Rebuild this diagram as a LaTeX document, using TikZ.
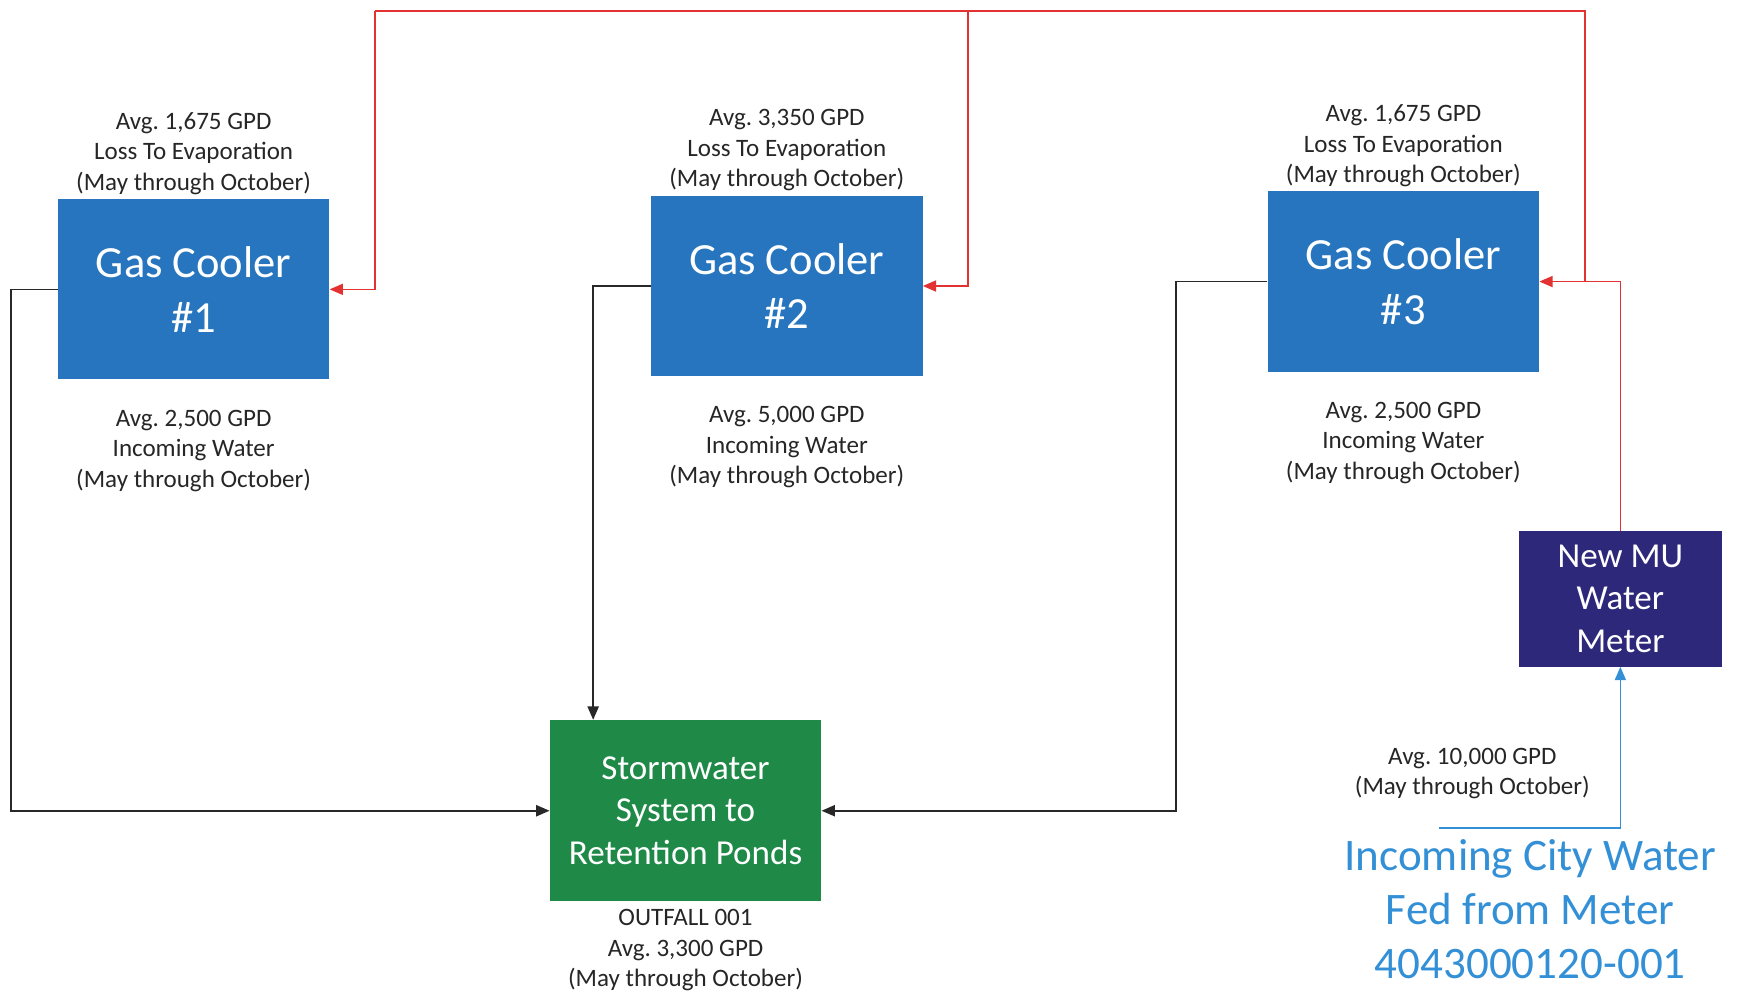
\documentclass[tikz,border=0pt]{standalone}
\usepackage{fontspec}
\setmainfont{Carlito}
\usetikzlibrary{arrows.meta}
\definecolor{gcblue}{RGB}{38,117,190}
\definecolor{swgreen}{RGB}{31,138,72}
\definecolor{mnavy}{RGB}{45,40,122}
\definecolor{cityblue}{RGB}{52,144,214}
\definecolor{pipered}{RGB}{226,50,50}
\definecolor{pipeblack}{RGB}{40,40,40}
\tikzset{
  gcbox/.style={fill=gcblue, text=white, minimum width=244pt, minimum height=162pt, align=center, inner sep=0pt,
    font=\fontsize{40}{49}\selectfont},
  swbox/.style={fill=swgreen, text=white, minimum width=244pt, minimum height=163pt, align=center, inner sep=0pt,
    font=\fontsize{31.5}{38}\selectfont},
  mbox/.style={fill=mnavy, text=white, minimum width=182pt, minimum height=122pt, align=center, inner sep=0pt,
    font=\fontsize{31.5}{38}\selectfont},
  lbl/.style={align=center, inner sep=0pt, text=black!85, font=\fontsize{22.5}{27.5}\selectfont},
  citylbl/.style={align=center, inner sep=0pt, text=cityblue, font=\fontsize{40.5}{48.5}\selectfont},
  tip/.style={-{Triangle[length=12pt,width=10pt]}},
  redpipe/.style={draw=pipered, line width=1.4pt},
  blackpipe/.style={draw=pipeblack, line width=1.5pt},
  bluepipe/.style={draw=cityblue, line width=1.4pt},
}
\frenchspacing
\begin{document}
\begin{tikzpicture}[x=1pt, y=-1pt]
\useasboundingbox (0,0) rectangle (1568,894);

% boxes
\node[gcbox] (gc1) at (174,260) {Gas Cooler\\\#1};
\node[gcbox] (gc2) at (707,257) {Gas Cooler\\\#2};
\node[gcbox] (gc3) at (1261,253) {Gas Cooler\\\#3};
\node[swbox] (sw) at (616,728.5) {Stormwater\\System to\\Retention Ponds};
\node[mbox] (meter) at (1456,538) {New MU\\Water\\Meter};

% labels
\node[lbl] (l1a) at (174,138) {Avg. 1,675 GPD\\Loss To Evaporation\\(May through October)};
\node[lbl] (l1b) at (174,405) {Avg. 2,500 GPD\\Incoming Water\\(May through October)};
\node[lbl] (l2a) at (707,135) {Avg. 3,350 GPD\\Loss To Evaporation\\(May through October)};
\node[lbl] (l2b) at (707,402) {Avg. 5,000 GPD\\Incoming Water\\(May through October)};
\node[lbl] (l3a) at (1261,131) {Avg. 1,675 GPD\\Loss To Evaporation\\(May through October)};
\node[lbl] (l3b) at (1261,398) {Avg. 2,500 GPD\\Incoming Water\\(May through October)};
\node[lbl] (lsw) at (616,854) {OUTFALL 001\\Avg. 3,300 GPD\\(May through October)};
\node[lbl] (lcity) at (1323,695) {Avg. 10,000 GPD\\(May through October)};
\node[citylbl] (city) at (1375,817) {Incoming City Water\\Fed from Meter\\4043000120-001};

% coordinates for pipe corners
\coordinate (topL) at (337,10);
\coordinate (top2) at (870,10);
\coordinate (topR) at (1424,10);
\coordinate (j3) at (1424,253);
\coordinate (c1) at (10,728.5);
\coordinate (c2) at (533,500);
\coordinate (c3) at (1057,728.5);
\coordinate (b0) at (1293,744);

% red make-up water pipes
\draw[redpipe, tip] (meter.north) |- (gc3.east);
\draw[redpipe] (j3) -- (topR) -- (topL);
\draw[redpipe, tip] (topL) |- (gc1.east);
\draw[redpipe, tip] (top2) |- (gc2.east);

% black discharge pipes
\draw[blackpipe, tip] (gc1.west) -| (c1) -- (sw.west);
\draw[blackpipe, tip] (gc2.west) -| (c2 |- sw.north);
\draw[blackpipe, tip] (gc3.west) -| (c3) -- (sw.east);

% blue city water
\draw[bluepipe, tip] (b0) -| (meter.south);
\end{tikzpicture}
\end{document}
